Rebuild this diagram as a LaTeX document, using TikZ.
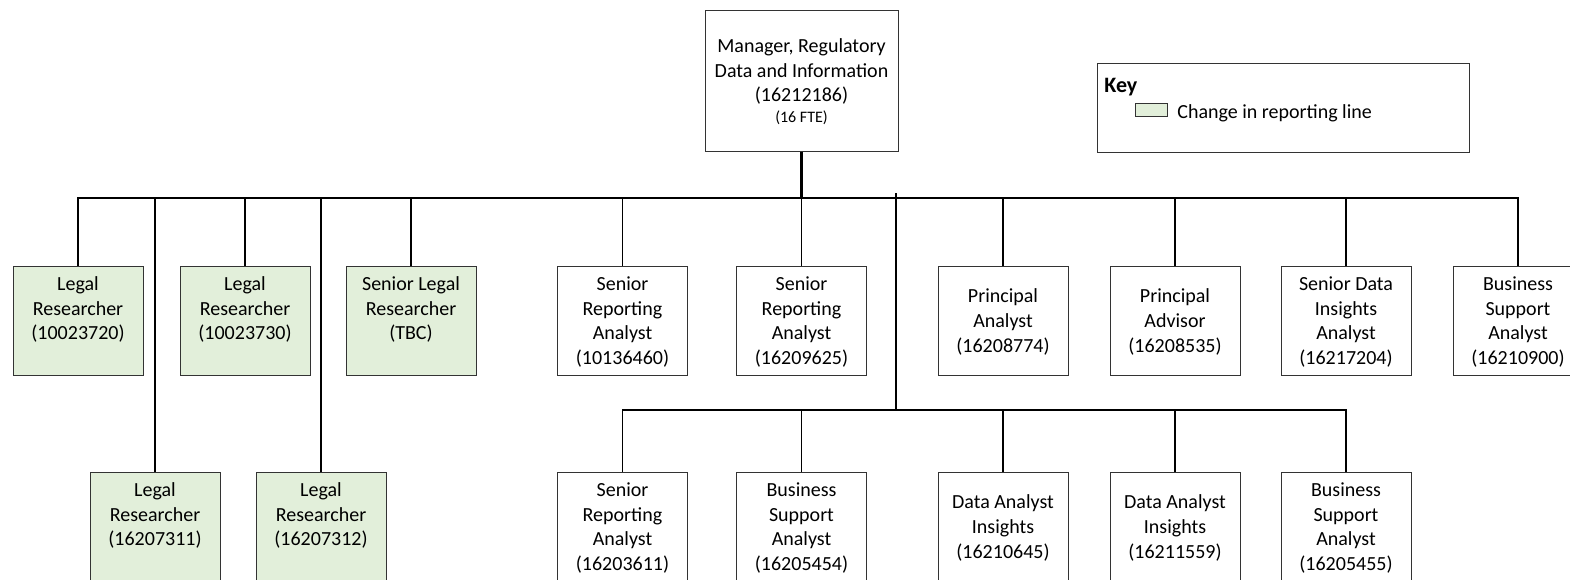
\documentclass[tikz,border=0pt]{standalone}
\usepackage{fontspec}
\setmainfont{Carlito}
\usetikzlibrary{positioning}
\definecolor{changegreen}{HTML}{E2EFDA}

\begin{document}
\begin{tikzpicture}[
    x=0.5pt, y=-0.5pt,
    post/.style={draw=black!80, rectangle, line width=0.5pt, minimum width=65pt, minimum height=54.5pt, inner sep=0pt, align=center, fill=white, font=\fontsize{10}{12.35}\selectfont, text depth=-3pt},
    moved/.style={post, fill=changegreen},
    link/.style={line width=0.65pt},
    keybox/.style={draw=black!80, rectangle, line width=0.5pt, minimum width=186pt, minimum height=44.5pt, inner sep=0pt}
]
    \useasboundingbox (0,0) rectangle (1570,579);
    \clip (0,0) rectangle (1570,579);

    % ================= MANAGER =================
    \node[post, minimum width=96.5pt, minimum height=70.5pt, text depth=-3.6pt] (MGR) at (801.5,80.5)
        {Manager, Regulatory\\Data and Information\\(16212186)\\[-2pt]{\fontsize{8}{11}\selectfont(16 FTE)}};

    % ================= KEY =================
    \node[keybox] (KEY) at (1283,107.5) {};
    \node[anchor=west, inner sep=0pt, font=\fontsize{11}{13}\selectfont\bfseries] (KEYTITLE) at (1104,87) {Key};
    \node[draw=black!80, fill=changegreen, line width=0.5pt, minimum width=16pt, minimum height=6.5pt, inner sep=0pt] (SWATCH) at (1151,109.5) {};
    \node[anchor=west, inner sep=0pt, font=\fontsize{10}{12}\selectfont] (KEYTEXT) at (1177,113) {Change in reporting line};

    % ================= FIRST ROW =================
    \node[moved] (LR1) at (78,320.5) {Legal\\Researcher\\(10023720)\\~};
    \node[moved] (LR2) at (245,320.5) {Legal\\Researcher\\(10023730)\\~};
    \node[moved] (SLR) at (411,320.5) {Senior Legal\\Researcher\\(TBC)\\~};
    \node[post] (SRA1) at (622.5,320.5) {Senior\\Reporting\\Analyst\\(10136460)};
    \node[post] (SRA2) at (801.5,320.5) {Senior\\Reporting\\Analyst\\(16209625)};
    \node[post] (PAN) at (1003,320.5) {Principal\\Analyst\\(16208774)};
    \node[post] (PAD) at (1175,320.5) {Principal\\Advisor\\(16208535)};
    \node[post] (SDIA) at (1346,320.5) {Senior Data\\Insights\\Analyst\\(16217204)};
    \node[post] (BSA1) at (1518,320.5) {Business\\Support\\Analyst\\(16210900)};

    % ================= SECOND ROW =================
    \node[moved] (LR3) at (155,526.5) {Legal\\Researcher\\(16207311)\\~};
    \node[moved] (LR4) at (321,526.5) {Legal\\Researcher\\(16207312)\\~};
    \node[post] (SRA3) at (622.5,526.5) {Senior\\Reporting\\Analyst\\(16203611)};
    \node[post] (BSA2) at (801.5,526.5) {Business\\Support\\Analyst\\(16205454)};
    \node[post] (DAI1) at (1003,526.5) {Data Analyst\\Insights\\(16210645)};
    \node[post] (DAI2) at (1175,526.5) {Data Analyst\\Insights\\(16211559)};
    \node[post] (BSA3) at (1346,526.5) {Business\\Support\\Analyst\\(16205455)};

    % ================= CONNECTIONS =================
    \coordinate (BAR) at (801.5,198);
    \coordinate (HUB) at (896,193);
    \coordinate (SUB) at (896,410);

    % Manager - main bar
    \draw[line width=1.1pt] (MGR.south) -- (BAR);
    \draw[link] (LR1.north) |- (BAR) -| (BSA1.north);
    \foreach \n in {LR2, SLR, SRA1, SRA2, PAN, PAD, SDIA, LR3, LR4}
        \draw[link] (BAR) -| (\n.north);

    % Second bar
    \draw[link] (HUB) -- (SUB);
    \draw[link] (SRA3.north) |- (SUB) -| (BSA3.north);
    \foreach \n in {BSA2, DAI1, DAI2}
        \draw[link] (SUB) -| (\n.north);

\end{tikzpicture}
\end{document}
